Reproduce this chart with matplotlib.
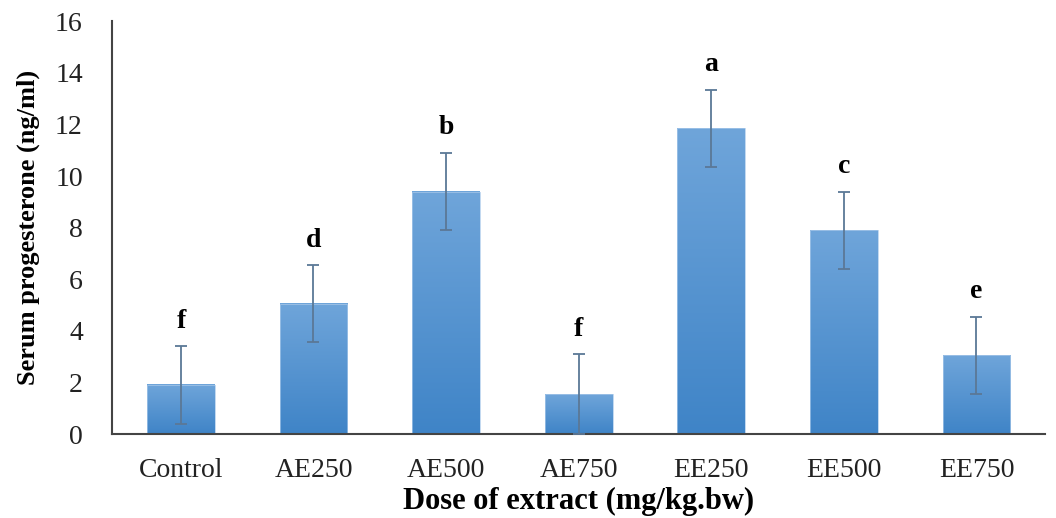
import matplotlib
matplotlib.use("Agg")
import matplotlib.pyplot as plt
import numpy as np
from matplotlib.colors import LinearSegmentedColormap

categories = ["Control", "AE250", "AE500", "AE750", "EE250", "EE500", "EE750"]
means = [1.9, 5.05, 9.4, 1.55, 11.85, 7.9, 3.05]
errors = [1.5, 1.5, 1.5, 1.55, 1.5, 1.5, 1.5]
letters = ["f", "d", "b", "f", "a", "c", "e"]
yticks = [0, 2, 4, 6, 8, 10, 12, 14, 16]

plt.rcParams['font.family'] = ['Liberation Serif', 'DejaVu Serif']

fig = plt.figure(figsize=(10.56, 5.18), dpi=100)
ax = fig.add_axes([0.106, 0.162, 0.884, 0.797])

x = np.arange(len(categories))
width = 0.51
bars = ax.bar(x, means, width=width, color='none', edgecolor='none', zorder=2)

grad = np.linspace(0, 1, 256).reshape(-1, 1)
cmap = LinearSegmentedColormap.from_list("g", ["#3f84c7", "#6fa5da"])
for b in bars:
    x0, y0 = b.get_x(), b.get_y()
    w, h = b.get_width(), b.get_height()
    ax.imshow(grad, extent=[x0, x0 + w, y0, y0 + h], origin='lower',
              cmap=cmap, aspect='auto', zorder=2)
    ax.add_patch(plt.Rectangle((x0, y0), w, h, fill=False, edgecolor='#a9c9ea',
                               lw=0.5, zorder=2.5))

ax.errorbar(x, means, yerr=errors, fmt='none', ecolor='#5b7896', elinewidth=1.3,
            capsize=4.5, capthick=1.3, zorder=3)

for xi, m, e, l in zip(x, means, errors, letters):
    ax.annotate(l, (xi, m + e), xytext=(0, 9), textcoords='offset points',
                ha='center', va='bottom', fontsize=20, fontweight='bold', color='black')

ax.set_xlim(-0.52, len(categories) - 0.48)
ax.set_ylim(0, 16)
ax.set_yticks(yticks)
ax.set_xticks(x)
ax.set_xticklabels(categories)
ax.tick_params(axis='both', length=0, labelsize=20, colors='#222222')
ax.tick_params(axis='x', pad=17)
ax.tick_params(axis='y', pad=21)
for s in ['top', 'right']:
    ax.spines[s].set_visible(False)
for s in ['left', 'bottom']:
    ax.spines[s].set_color('#444444')
    ax.spines[s].set_linewidth(1.5)

ax.set_ylabel("Serum progesterone (ng/ml)", fontsize=19, fontweight='bold', labelpad=11)
ax.set_xlabel("Dose of extract (mg/kg.bw)", fontsize=22, fontweight='bold', labelpad=3)

fig.savefig("out.png", dpi=100)
